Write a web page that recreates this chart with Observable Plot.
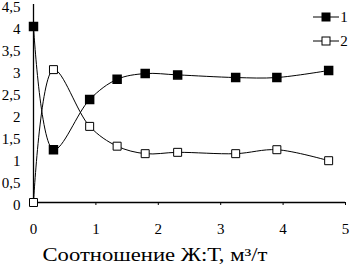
<!DOCTYPE html>
<html><head><meta charset="utf-8">
<script src="https://cdn.jsdelivr.net/npm/d3@7"></script>
<script src="https://cdn.jsdelivr.net/npm/@observablehq/plot@0.6"></script>
<style>body{margin:0;background:#fff}svg, svg text{font-family:"Liberation Serif","DejaVu Serif",serif !important}</style>
</head><body><div id="chart"></div>
<script>
const xs1 = [0, 0.32, 0.9, 1.34, 1.79, 2.31, 3.24, 3.9, 4.73];
const s1 = [4.0, 1.2, 2.34, 2.8, 2.93, 2.9, 2.84, 2.84, 3.0];
const xs2 = [0, 0.32, 0.9, 1.34, 1.79, 2.31, 3.24, 3.9, 4.73];
const s2 = [0, 3.02, 1.73, 1.28, 1.11, 1.14, 1.11, 1.2, 0.95];
const seriesNames = ["1", "2"];
const yTicks = [0, 0.5, 1, 1.5, 2, 2.5, 3, 3.5, 4, 4.5];
const xTicks = [0, 1, 2, 3, 4, 5];
const xLabel = "Соотношение Ж:Т, м³/т";

const d1 = xs1.map((x, i) => ({x, y: s1[i]}));
const d2 = xs2.map((x, i) => ({x, y: s2[i]}));
const fmt = d => String(d).replace(".", ",");

const plot = Plot.plot({
  width: 352, height: 277,
  marginLeft: 33, marginRight: 7, marginTop: 4, marginBottom: 75,
  style: {fontSize: "15px", color: "#000", background: "#fff"},
  x: {domain: [0, 5], ticks: xTicks, tickFormat: d => String(d), tickSize: 3, tickPadding: 18, label: null},
  y: {domain: [0, 4.5], ticks: yTicks, tickFormat: fmt, tickSize: 0, tickPadding: 13, label: null},
  marks: [
    Plot.ruleX([0], {stroke: "#000", strokeWidth: 1.3}),
    Plot.ruleY([0], {stroke: "#000", strokeWidth: 1.5}),
    Plot.line(d2, {x: "x", y: "y", curve: "catmull-rom", stroke: "#000", strokeWidth: 1}),
    Plot.line(d1, {x: "x", y: "y", curve: "catmull-rom", stroke: "#000", strokeWidth: 1}),
    Plot.dot(d2, {x: "x", y: "y", symbol: "square", r: 4.5, fill: "#fff", stroke: "#000", strokeWidth: 1}),
    Plot.dot(d1, {x: "x", y: "y", symbol: "square", r: 4.5, fill: "#000", stroke: "#000"}),
    Plot.text([xLabel], {frameAnchor: "bottom-left", textAnchor: "start", lineAnchor: "middle", dx: 9, dy: 53,
      text: d => d, fontSize: 18, fill: "#000", className: "xlabel"})
  ]
});
document.getElementById("chart").append(plot);

const svg = d3.select(plot);
// shift y tick labels slightly down so the top one stays inside the picture
svg.selectAll("[aria-label='y-axis tick label'] text").attr("transform", function() {
  const t = this.getAttribute("transform") || "";
  return t + " translate(0,3)";
});
// widen the axis title like the reference
svg.selectAll(".xlabel text").attr("textLength", 225).attr("lengthAdjust", "spacingAndGlyphs");

// legend (top-right inside frame)
const xr = plot.scale("x").range;
const yr = plot.scale("y").range;
const lg = svg.append("g");
seriesNames.forEach((name, i) => {
  const cy = yr[1] + 13 + i * 24;
  const cx = xr[1] - 19;
  lg.append("line").attr("x1", cx - 13).attr("x2", cx + 13).attr("y1", cy).attr("y2", cy).attr("stroke", "#000");
  lg.append("rect").attr("x", cx - 4).attr("y", cy - 4).attr("width", 8).attr("height", 8)
    .attr("fill", i === 0 ? "#000" : "#fff").attr("stroke", "#000");
  lg.append("text").attr("x", cx + 18).attr("y", cy).attr("dy", "0.35em").attr("font-size", 15).attr("fill", "#000").text(name);
});
</script></body></html>
